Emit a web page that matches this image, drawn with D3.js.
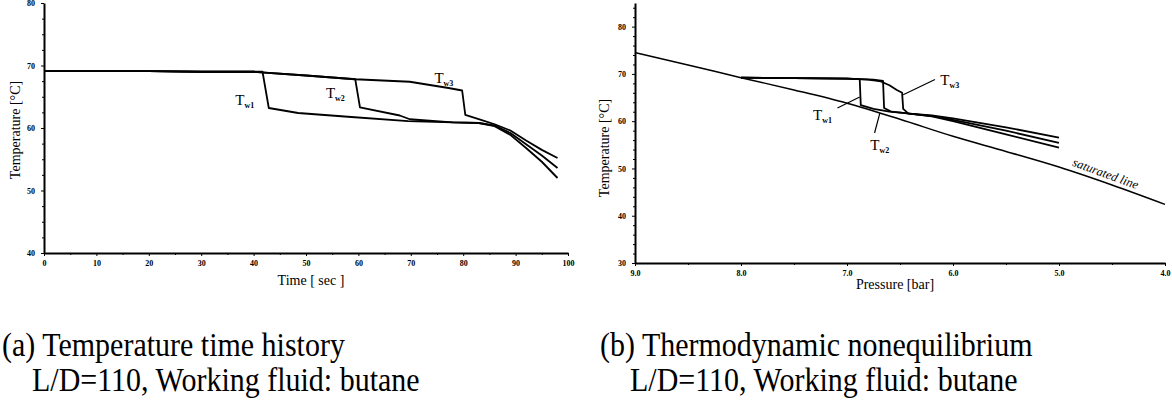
<!DOCTYPE html>
<html>
<head>
<meta charset="utf-8">
<script src="https://cdn.jsdelivr.net/npm/d3@7/dist/d3.min.js"></script>
<style>
  html, body { margin: 0; padding: 0; background: #fff; }
  svg { display: block; }
  .tick text { font-family: "Liberation Serif", serif; font-weight: bold; font-size: 8px; fill: #000; }
  .axis .domain { stroke: #000; stroke-width: 2; }
  .axis .tick line { stroke: #000; stroke-width: 1; }
  .curve { fill: none; stroke: #000; stroke-width: 1.8; stroke-linejoin: round; }
  .lbl { font-family: "Liberation Serif", serif; fill: #000; }
</style>
</head>
<body>
<div id="chart"></div>
<script>
// ---- data ----
// (a) temperature time history: [time sec, temperature °C]
const timeTicks = [0, 10, 20, 30, 40, 50, 60, 70, 80, 90, 100];
const tempTicksA = [40, 50, 60, 70, 80];
const tw1History = [[0, 69.1], [10, 69.1], [20, 69.1], [30, 69.0], [38, 69.0], [41.7, 69.0], [42.9, 63.2],
  [48.5, 62.4], [58, 61.8], [69.5, 61.1], [78, 60.9], [83, 60.8], [86, 60.3], [89, 58.9], [92, 56.8], [95, 54.6], [98, 52.0]];
const tw2History = [[0, 69.1], [10, 69.1], [20, 69.1], [30, 69.0], [40, 69.0], [50, 68.4], [59.4, 67.8], [60.3, 63.3],
  [67.9, 62.0], [69.8, 61.4], [78, 60.9], [83, 60.8], [86, 60.4], [89, 59.2], [92, 57.4], [95, 55.6], [98, 53.6]];
const tw3History = [[0, 69.1], [10, 69.1], [20, 69.1], [30, 69.0], [40, 69.0], [50, 68.4], [59.4, 67.8], [69.8, 67.4],
  [77.2, 66.4], [79.8, 66.0], [80.4, 62.1], [83.4, 61.3], [86, 60.6], [89, 59.6], [92, 58.0], [95, 56.5], [98, 55.2]];

// (b) thermodynamic nonequilibrium: [pressure bar, temperature °C]
const pressTicks = [9.0, 8.0, 7.0, 6.0, 5.0, 4.0];
const tempTicksB = [30, 40, 50, 60, 70, 80];
const saturatedLine = [[9.0, 74.5], [8.5, 71.9], [8.0, 69.2], [7.5, 66.6], [7.0, 63.8], [6.5, 60.4], [6.0, 56.8],
  [5.5, 53.6], [5.0, 50.3], [4.5, 46.5], [4.0, 42.4]];
const tw1Path = [[8.0, 69.2], [7.5, 69.1], [7.0, 69.0], [6.88, 68.9], [6.87, 63.4], [6.75, 62.6], [6.6, 62.0],
  [6.45, 61.7], [6.2, 61.0], [6.0, 60.0], [5.5, 57.2], [5.0, 54.4]];
const tw2Path = [[8.0, 69.2], [7.5, 69.1], [7.0, 69.0], [6.75, 68.8], [6.66, 68.5], [6.65, 62.8], [6.58, 62.0],
  [6.45, 61.7], [6.2, 61.1], [6.0, 60.3], [5.5, 58.0], [5.0, 55.4]];
const tw3Path = [[8.0, 69.2], [7.5, 69.1], [7.0, 69.0], [6.8, 68.8], [6.68, 68.4], [6.6, 67.6], [6.53, 66.6],
  [6.48, 66.0], [6.47, 62.6], [6.42, 61.6], [6.2, 61.2], [6.0, 60.6], [5.5, 58.7], [5.0, 56.5]];

// label anchors in data units
const labelsA = [
  { name: 'w1', at: [36.5, 63.7] },
  { name: 'w2', at: [53.8, 64.8] },
  { name: 'w3', at: [74.5, 67.2] }
];
const labelsB = [
  { name: 'w1', at: [7.32, 60.3], lead: [[7.09, 62.8], [6.88, 65.1]] },
  { name: 'w2', at: [6.78, 53.9], lead: [[6.74, 57.5], [6.69, 61.7]] },
  { name: 'w3', at: [6.12, 67.7], lead: [[6.17, 68.8], [6.47, 65.6]] }
];

const width = 1172, height = 405;
const svg = d3.select('#chart').append('svg')
  .attr('width', width)
  .attr('height', height);

// ---------- panel (a) ----------
const xA = d3.scaleLinear().domain([0, 100]).range([44, 568]);
const yA = d3.scaleLinear().domain([40, 80]).range([253, 3]);

function drawAxes(x, y, xTicks, yTicks, xFmt, xMinor, yMinor) {
  const [x0] = x.range();
  const [y0] = y.range();
  // minor ticks
  svg.append('g').attr('class', 'axis')
    .attr('transform', `translate(0,${y0})`)
    .call(d3.axisBottom(x).tickValues(xMinor).tickSize(2).tickFormat(''))
    .call(g => g.select('.domain').remove());
  svg.append('g').attr('class', 'axis')
    .attr('transform', `translate(${x0},0)`)
    .call(d3.axisLeft(y).tickValues(yMinor).tickSize(2).tickFormat(''))
    .call(g => g.select('.domain').remove());

  svg.append('g').attr('class', 'axis')
    .attr('transform', `translate(0,${y0})`)
    .call(d3.axisBottom(x).tickValues(xTicks).tickSize(3).tickSizeOuter(0).tickPadding(4).tickFormat(xFmt));
  svg.append('g').attr('class', 'axis')
    .attr('transform', `translate(${x0},0)`)
    .call(d3.axisLeft(y).tickValues(yTicks).tickSize(3).tickSizeOuter(0).tickPadding(6).tickFormat(d3.format('d')));
}

drawAxes(xA, yA, timeTicks, tempTicksA, d3.format('d'),
  d3.range(5, 100, 10), d3.range(42.5, 80, 2.5).filter(v => v % 10 !== 0));

const lineA = d3.line().x(d => xA(d[0])).y(d => yA(d[1]));
[tw1History, tw2History, tw3History].forEach(s => {
  svg.append('path').attr('class', 'curve').attr('d', lineA(s));
});

// ---------- panel (b) ----------
const xB = d3.scaleLinear().domain([9, 4]).range([635, 1165]);
const yB = d3.scaleLinear().domain([30, 85]).range([263, 3]);

drawAxes(xB, yB, pressTicks, tempTicksB, d3.format('.1f'),
  d3.range(8.5, 4, -0.5), d3.range(32, 85, 2).filter(v => v % 10 !== 0));

const lineB = d3.line().x(d => xB(d[0])).y(d => yB(d[1]));
svg.append('path').attr('class', 'curve').style('stroke-width', 1.5)
  .attr('d', lineB.curve(d3.curveMonotoneX)(saturatedLine));
lineB.curve(d3.curveLinear);
[tw1Path, tw2Path, tw3Path].forEach(s => {
  svg.append('path').attr('class', 'curve').attr('d', lineB(s));
});

// ---------- annotations ----------
function tLabel(px, py, name) {
  const t = svg.append('text').attr('class', 'lbl')
    .attr('x', px).attr('y', py)
    .style('font-size', '15px');
  t.append('tspan').text('T');
  t.append('tspan').attr('dy', 3).style('font-size', '8px').style('font-weight', 'bold').text(name);
}
labelsA.forEach(l => tLabel(xA(l.at[0]), yA(l.at[1]), l.name));
labelsB.forEach(l => {
  tLabel(xB(l.at[0]), yB(l.at[1]), l.name);
  svg.append('path').attr('class', 'curve').style('stroke-width', 1.2)
    .attr('d', d3.line().x(d => xB(d[0])).y(d => yB(d[1]))(l.lead));
});

// saturated line label, rotated along the line
const satAnchor = [4.88, 50.6];
svg.append('text').attr('class', 'lbl')
  .attr('transform', `translate(${xB(satAnchor[0])},${yB(satAnchor[1])}) rotate(20)`)
  .style('font-size', '12.5px').style('font-style', 'italic')
  .text('saturated line');

// axis titles
svg.append('text').attr('class', 'lbl')
  .attr('x', 311).attr('y', 285).attr('text-anchor', 'middle')
  .style('font-size', '14px').text('Time [ sec ]');
svg.append('text').attr('class', 'lbl')
  .attr('transform', 'translate(20,130) rotate(-90)').attr('text-anchor', 'middle')
  .style('font-size', '14px').text('Temperature [°C]');
svg.append('text').attr('class', 'lbl')
  .attr('x', 895).attr('y', 289).attr('text-anchor', 'middle')
  .style('font-size', '14px').text('Pressure [bar]');
svg.append('text').attr('class', 'lbl')
  .attr('transform', 'translate(609,148) rotate(-90)').attr('text-anchor', 'middle')
  .style('font-size', '14px').text('Temperature [°C]');

// captions (the scan is slightly stretched vertically)
const captions = [
  { x: 2, lines: ['(a) Temperature time history', 'L/D=110, Working fluid: butane'] },
  { x: 600, lines: ['(b) Thermodynamic nonequilibrium', 'L/D=110, Working fluid: butane'] }
];
captions.forEach(c => {
  c.lines.forEach((s, i) => {
    svg.append('text').attr('class', 'lbl')
      .attr('transform', `translate(${c.x + (i ? 30 : 0)},${356 + i * 35}) scale(1,1.15)`)
      .style('font-size', '30px').text(s);
  });
});
</script>
</body>
</html>
